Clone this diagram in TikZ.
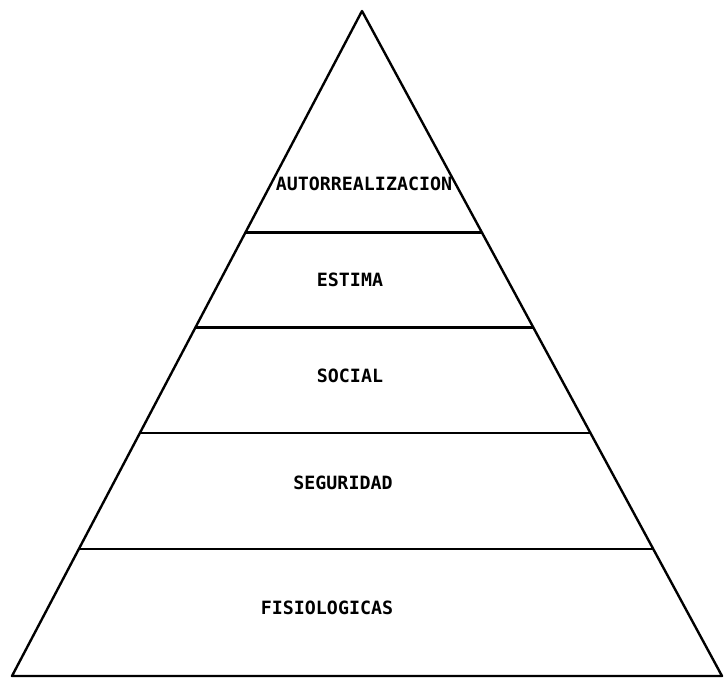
\documentclass[tikz,border=0pt]{standalone}
\usepackage{fontspec}
\newfontfamily\levelfont{DejaVu Sans Mono}
\usetikzlibrary{calc}

\tikzset{
  level/.style={font=\levelfont\bfseries\fontsize{13}{15}\selectfont, inner sep=1pt},
  divider/.style={line width=1.7pt}
}

\begin{document}
\begin{tikzpicture}[x=0.025cm, y=-0.025cm, line join=round]

        \useasboundingbox (0,0) rectangle (725,678);

        \coordinate (apex) at (362,11);
        \coordinate (bl) at (12,676);
        \coordinate (br) at (722,676);

        % outline
        \draw[divider] (bl) -- (apex) -- (br) -- cycle;

        % divisions between levels
        \foreach \t/\n in {0.333/a, 0.476/b, 0.635/c, 0.809/d} {
            \coordinate (l\n) at ($(apex)!\t!(bl)$);
            \coordinate (r\n) at ($(apex)!\t!(br)$);
            \draw[divider] (l\n) -- (r\n);
        }

        \node[level] (auto) at (364,184) {AUTORREALIZACION};
        \node[level] (estima) at (350,280) {ESTIMA};
        \node[level] (social) at (350,376) {SOCIAL};
        \node[level] (seguridad) at (343,483) {SEGURIDAD};
        \node[level] (fisio) at (327,608) {FISIOLOGICAS};

    \end{tikzpicture}
\end{document}
